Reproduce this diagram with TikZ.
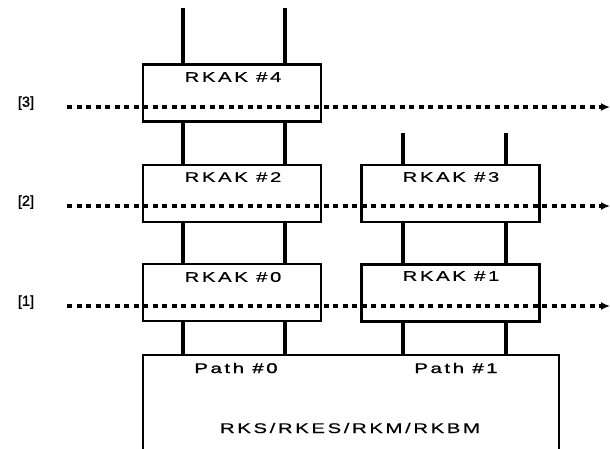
\documentclass[tikz,border=0pt]{standalone}
\usepackage{fontspec}
\usepackage{graphicx}
\setmainfont{Liberation Sans}[FakeBold=0.4]
\newfontfamily\pathfont{Liberation Sans}[FakeBold=1.4]
\usetikzlibrary{arrows.meta}
\newcommand{\wtxt}[1]{\scalebox{1.45}[1]{\addfontfeature{LetterSpace=13}#1}}
\begin{document}
\begin{tikzpicture}[x=1pt,y=-1pt,
  blk/.style={draw=black,line width=2.3pt,minimum width=178pt,minimum height=57pt,inner sep=0pt},
  ttl/.style={font=\fontsize{14}{15}\selectfont,inner sep=0pt},
  pth/.style={font=\fontsize{14}{15}\selectfont\pathfont,inner sep=0pt},
  bus/.style={line width=4.6pt},
  lvl/.style={line width=3.2pt,dash pattern=on 5pt off 4.5pt,-{Latex[length=9pt,width=8pt]}},
  lab/.style={font=\fontsize{14.5}{15}\selectfont\pathfont,inner sep=0pt}]
\useasboundingbox (0,0) rectangle (610,448);
\clip (0,0) rectangle (610,448);
% boxes
\node[blk] (b4) at (232,93) {};
\node[blk] (b2) at (232,193.5) {};
\node[blk] (b0) at (232,292.5) {};
\node[blk] (b3) at (450.5,193.5) {};
\node[blk] (b1) at (450.5,293) {};
\draw[line width=2.3pt] (143,355) coordinate (bigtl) rectangle (559,460);
\coordinate (bigtop) at (350,355);
% titles
\node[ttl] (t4) at (233,77) {\wtxt{RKAK \#4}};
\node[ttl] (t2) at (233,177) {\wtxt{RKAK \#2}};
\node[ttl] (t0) at (233,277) {\wtxt{RKAK \#0}};
\node[ttl] (t3) at (451,177) {\wtxt{RKAK \#3}};
\node[ttl] (t1) at (451,276) {\wtxt{RKAK \#1}};
\node[pth] (p0) at (236,368) {\wtxt{Path \#0}};
\node[pth] (p1) at (456,368) {\wtxt{Path \#1}};
\node[ttl] (rk) at (350,428) {\wtxt{RKS/RKES/RKM/RKBM}};
% bus lines
\coordinate (xa) at (183,0);
\coordinate (xb) at (285,0);
\coordinate (xc) at (403,0);
\coordinate (xd) at (506,0);
\coordinate (topL) at (0,8);
\coordinate (topR) at (0,133);
\foreach \x in {xa,xb}{
  \draw[bus] (\x |- topL) -- (\x |- b4.north);
  \draw[bus] (\x |- b4.south) -- (\x |- b2.north);
  \draw[bus] (\x |- b2.south) -- (\x |- b0.north);
  \draw[bus] (\x |- b0.south) -- (\x |- bigtop);
}
\foreach \x in {xc,xd}{
  \draw[bus] (\x |- topR) -- (\x |- b3.north);
  \draw[bus] (\x |- b3.south) -- (\x |- b1.north);
  \draw[bus] (\x |- b1.south) -- (\x |- bigtop);
}
% levels
\node[lab] (l3) at (26,103) {[3]};
\node[lab] (l2) at (26,202) {[2]};
\node[lab] (l1) at (26,302) {[1]};
\coordinate (s3) at (67,107); \coordinate (e3) at (610,107);
\coordinate (s2) at (67,206); \coordinate (e2) at (610,206);
\coordinate (s1) at (67,306); \coordinate (e1) at (610,306);
\draw[lvl] (s3) -- (e3);
\draw[lvl] (s2) -- (e2);
\draw[lvl] (s1) -- (e1);
\end{tikzpicture}
\end{document}
